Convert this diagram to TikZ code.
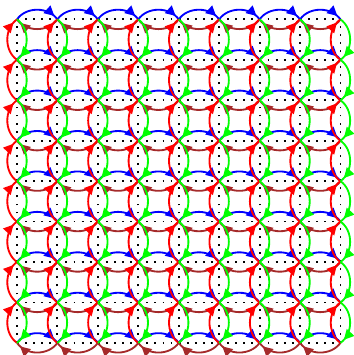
\documentclass[tikz,border=0pt]{standalone}
\usepackage{tikz}
\usetikzlibrary{arrows.meta, decorations.markings}
\definecolor{linkBlue}{HTML}{0000FF}
\definecolor{linkBrown}{HTML}{A52A2A}
\definecolor{linkRed}{HTML}{FF0000}
\definecolor{linkGreen}{HTML}{00FF00}
\tikzset{
  halfloop/.style={line width=1.3pt,
    decoration={markings, mark=at position 0.9 with {\arrow{Triangle[length=7pt, width=7pt]}}},
    postaction={decorate}},
  latticeline/.style={line width=1.3pt, dash pattern=on 1.3pt off 4.39pt}
}

\begin{document}
\begin{tikzpicture}
  \useasboundingbox (-0.42,-0.30) rectangle (8.33,8.48);
  % lattice sites
  \foreach \i in {0,...,8} {
    \foreach \j in {0,...,8} {
      \coordinate (p-\i-\j) at (\i,\j);
    }
  }
  % dotted links
  \foreach \j in {0,...,8} \draw[latticeline] (p-0-\j) -- (p-8-\j);
  \foreach \i in {0,...,8} \draw[latticeline] (p-\i-0) -- (p-\i-8);
  % horizontal links: blue above, brown below
  \foreach \i [evaluate=\i as \n using int(\i+1)] in {0,...,7} {
    \foreach \j in {0,...,8} {
      \draw[halfloop, linkBlue] (p-\i-\j) to[bend left=55] (p-\n-\j);
      \draw[halfloop, linkBrown] (p-\n-\j) to[bend left=55] (p-\i-\j);
    }
  }
  % vertical links: red left, green right
  \foreach \i in {0,...,8} {
    \foreach \j [evaluate=\j as \n using int(\j+1)] in {0,...,7} {
      \draw[halfloop, linkRed] (p-\i-\j) to[bend left=55] (p-\i-\n);
      \draw[halfloop, linkGreen] (p-\i-\n) to[bend left=55] (p-\i-\j);
    }
  }
\end{tikzpicture}
\end{document}
